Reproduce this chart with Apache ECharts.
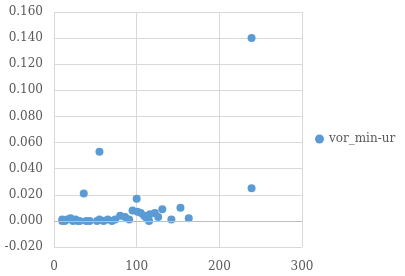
<!DOCTYPE html>
<html>
<head>
<meta charset="utf-8">
<script src="https://cdn.jsdelivr.net/npm/echarts@6/dist/echarts.min.js"></script>
<style>
  html, body { margin: 0; padding: 0; background: #fff; }
  #chart { width: 405px; height: 276px; }
</style>
</head>
<body>
<div id="chart"></div>
<script>
// 数据
var seriesName = 'vor_min-ur';
var xValues = [10, 10, 13, 16, 20, 23, 26, 29, 31, 36, 39, 43, 52, 55, 55, 60, 65, 70, 74,
               80, 86, 91, 95, 100, 101, 105, 109, 112, 115, 116, 122, 126, 131, 142, 153, 163, 239, 239];
var yValues = [0.001, 0.000, 0.000, 0.001, 0.002, 0.000, 0.001, 0.000, 0.000, 0.021, 0.000, 0.000, 0.000, 0.001, 0.053, 0.000, 0.001, 0.000, 0.001,
               0.004, 0.003, 0.001, 0.008, 0.017, 0.007, 0.006, 0.004, 0.002, 0.000, 0.005, 0.006, 0.003, 0.009, 0.001, 0.010, 0.002, 0.140, 0.025];

var chart = echarts.init(document.getElementById('chart'));

var points = [];
for (var i = 0; i < xValues.length; i++) {
    points.push([xValues[i], yValues[i]]);
}

var serif = 'DejaVu Serif';

var option = {
    animation: false,
    backgroundColor: '#fff',
    textStyle: { fontFamily: serif, color: '#595959', fontSize: 12 },
    grid: {
        left: 54,
        right: 103,
        top: 12,
        bottom: 29
    },
    legend: {
        data: [seriesName],
        orient: 'vertical',
        left: 310,
        top: 128,
        itemWidth: 9,
        itemHeight: 9,
        itemGap: 4,
        textStyle: { color: '#595959', fontFamily: serif, fontSize: 12 }
    },
    xAxis: {
        type: 'value',
        min: 0,
        max: 300,
        interval: 100,
        axisLine: { show: false },
        axisTick: { show: false },
        splitLine: { show: true, lineStyle: { color: '#d9d9d9', width: 1 } },
        axisLabel: {
            color: '#595959',
            fontFamily: serif,
            fontSize: 12,
            margin: 14
        }
    },
    yAxis: {
        type: 'value',
        min: -0.02,
        max: 0.16,
        interval: 0.02,
        axisLine: { show: false },
        axisTick: { show: false },
        splitLine: { show: true, lineStyle: { color: '#d9d9d9', width: 1 } },
        axisLabel: {
            color: '#595959',
            fontFamily: serif,
            fontSize: 12,
            margin: 11,
            formatter: function (v) { return v.toFixed(3); }
        }
    },
    series: [{
        name: seriesName,
        type: 'scatter',
        symbol: 'circle',
        symbolSize: 8,
        itemStyle: { color: '#5b9bd5', opacity: 1 },
        data: points,
        markLine: {
            silent: true,
            symbol: 'none',
            label: { show: false },
            lineStyle: { color: '#bfbfbf', type: 'solid', width: 1 },
            data: [{ yAxis: 0 }]
        }
    }]
};

chart.setOption(option);
</script>
</body>
</html>
